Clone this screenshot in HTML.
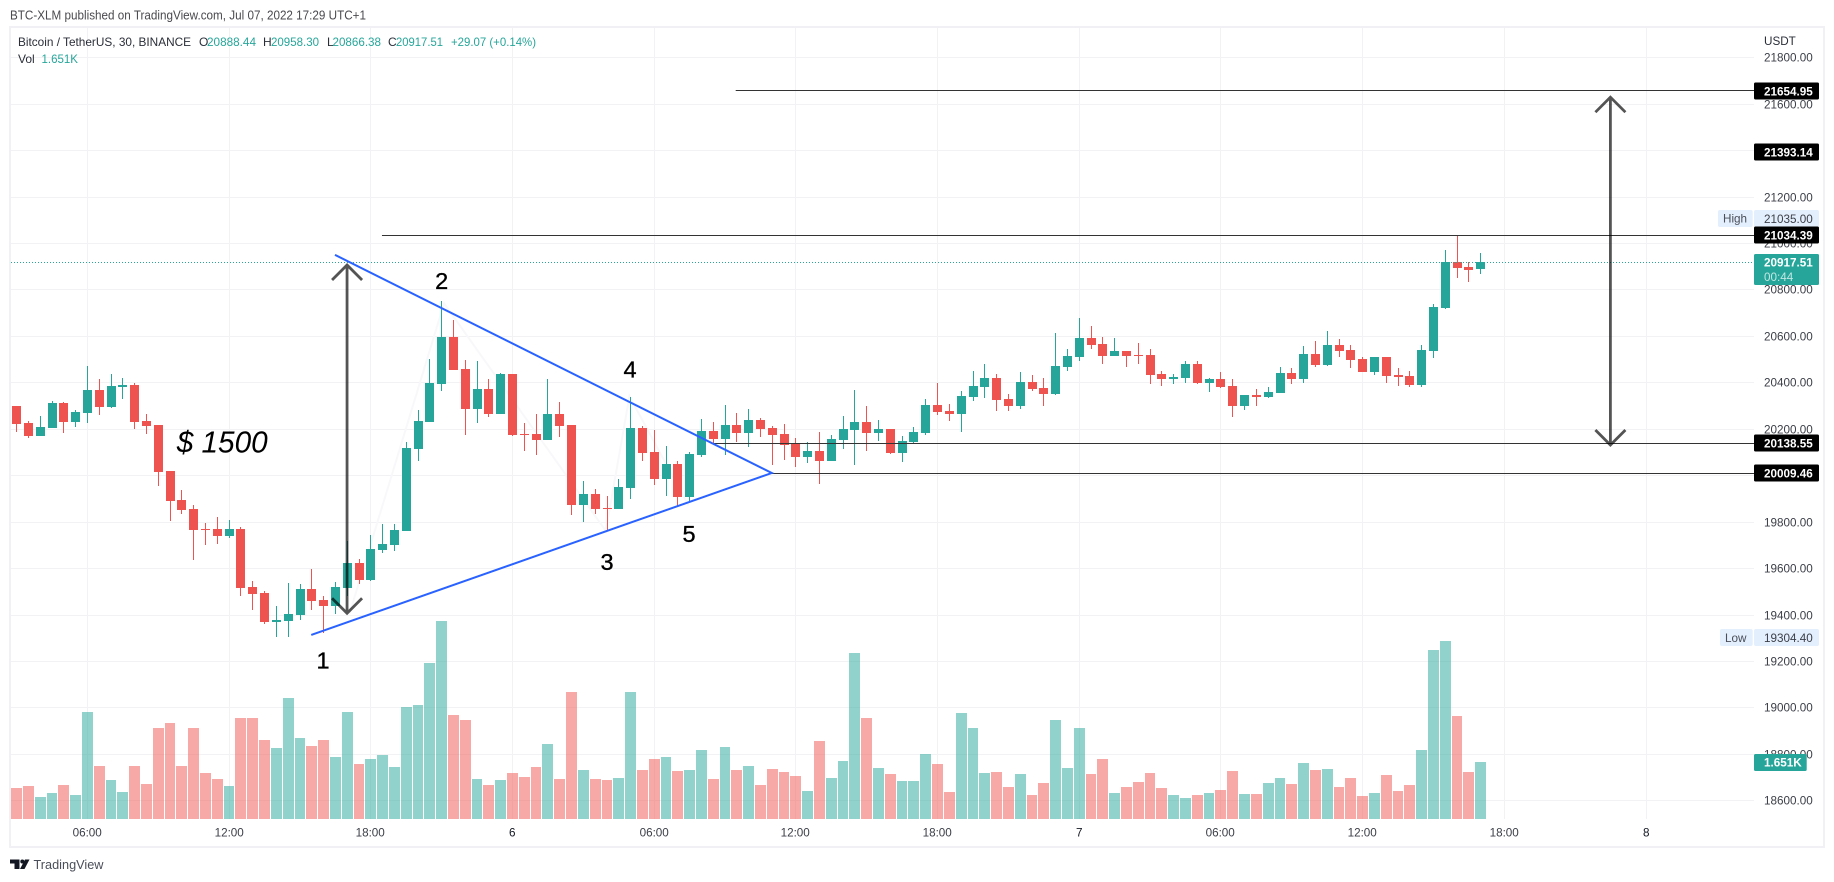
<!DOCTYPE html>
<html lang="en">
<head>
<meta charset="utf-8">
<title>BTC-XLM published on TradingView</title>
<style>
html,body{margin:0;padding:0;background:#fff;width:1834px;height:882px;overflow:hidden}
svg{display:block;font-family:"Liberation Sans",sans-serif}
</style>
</head>
<body>
<svg id="chart" xmlns="http://www.w3.org/2000/svg" width="1834" height="882" viewBox="0 0 1834 882">
  <rect x="0" y="0" width="1834" height="882" fill="#ffffff"/>
  <text x="10" y="19.5" font-size="12.5" fill="#4a4a4f" textLength="356" lengthAdjust="spacingAndGlyphs">BTC-XLM published on TradingView.com, Jul 07, 2022 17:29 UTC+1</text>
  <g id="grid" shape-rendering="crispEdges"></g>
  <g id="ghost"></g>
  <g id="volumes" shape-rendering="crispEdges"></g>
  <g id="candles" shape-rendering="crispEdges"></g>
  <g id="drawings"></g>
  <g id="legend" font-size="12">
    <text x="18" y="46" fill="#2a2e39" textLength="173" lengthAdjust="spacingAndGlyphs">Bitcoin / TetherUS, 30, BINANCE</text>
    <text x="199" y="46" fill="#2a2e39">O</text>
    <text x="207" y="46" fill="#26a69a" textLength="49" lengthAdjust="spacingAndGlyphs">20888.44</text>
    <text x="263" y="46" fill="#2a2e39">H</text>
    <text x="271" y="46" fill="#26a69a" textLength="48" lengthAdjust="spacingAndGlyphs">20958.30</text>
    <text x="327" y="46" fill="#2a2e39">L</text>
    <text x="332.5" y="46" fill="#26a69a" textLength="48.5" lengthAdjust="spacingAndGlyphs">20866.38</text>
    <text x="388" y="46" fill="#2a2e39">C</text>
    <text x="396" y="46" fill="#26a69a" textLength="47" lengthAdjust="spacingAndGlyphs">20917.51</text>
    <text x="451" y="46" fill="#26a69a" textLength="85" lengthAdjust="spacingAndGlyphs">+29.07 (+0.14%)</text>
    <text x="18" y="63" fill="#2a2e39">Vol</text>
    <text x="41.5" y="63" fill="#26a69a" textLength="36.5" lengthAdjust="spacingAndGlyphs">1.651K</text>
  </g>
  <g id="price-scale" font-size="11.7"></g>
  <g id="time-scale" font-size="11.7"></g>
  <g id="frame" fill="#f0f0f5" shape-rendering="crispEdges">
    <rect x="9" y="26" width="1816" height="2"/>
    <rect x="9" y="846" width="1816" height="2"/>
    <rect x="9" y="26" width="2" height="822"/>
    <rect x="1823" y="26" width="2" height="822"/>
  </g>
  <g id="logo">
    <path d="M10 859.5H19.5V869H14.5V863.5H10Z" fill="#131722"/>
    <circle cx="22.3" cy="861.5" r="2" fill="#131722"/>
    <path d="M25 859.5H29.5L24.5 869H20Z" fill="#131722"/>
    <text x="33.5" y="869" font-size="13" fill="#4a4e59" textLength="70" lengthAdjust="spacingAndGlyphs">TradingView</text>
  </g>
</svg>
<script>
const opens = [20298,20225,20169,20204,20311,20230,20268,20367,20294,20380,
20389,20234,20217,20019,19894,19855,19769,19769,19739,19769,
19519,19493,19368,19373,19398,19510,19463,19437,19515,19622,
19549,19678,19700,19760,20113,20230,20393,20595,20458,20285,
20371,20264,20436,20178,20178,20152,20264,20216,19872,19919,
19859,19855,19945,20203,20100,19984,20048,19906,20087,20191,
20156,20217,20182,20238,20204,20178,20136,20079,20105,20062,
20152,20195,20230,20182,20199,20096,20143,20182,20303,20277,
20264,20337,20380,20419,20329,20298,20402,20376,20350,20466,
20509,20591,20565,20514,20535,20518,20518,20436,20415,20419,
20479,20397,20415,20384,20298,20346,20337,20354,20440,20415,
20522,20475,20561,20539,20501,20445,20509,20432,20428,20389,
20535,20720,20918,20897,20888.44];
const highs = [20298,20234,20255,20320,20316,20281,20471,20415,20436,20419,
20398,20264,20217,20019,19937,19872,19795,19820,19808,19777,
19545,19502,19437,19536,19532,19597,19480,19541,19717,19640,
19743,19790,19790,20143,20281,20501,20751,20669,20496,20492,
20414,20440,20436,20225,20264,20414,20315,20216,19975,19941,
19911,19984,20337,20212,20195,20126,20061,20100,20242,20230,
20303,20268,20286,20247,20212,20221,20161,20143,20187,20174,
20255,20367,20298,20238,20199,20169,20208,20329,20398,20307,
20363,20449,20479,20436,20350,20445,20432,20419,20613,20544,
20677,20643,20596,20591,20535,20570,20544,20449,20436,20492,
20492,20419,20445,20415,20346,20372,20380,20466,20462,20557,
20578,20621,20587,20561,20509,20509,20509,20462,20449,20561,
20738,20970,21035,20918,20958.30];
const lows = [20187,20161,20169,20204,20182,20208,20225,20260,20290,20329,
20199,20178,19954,19803,19833,19635,19700,19704,19730,19480,
19420,19360,19304,19304,19377,19420,19321,19403,19480,19532,
19545,19665,19674,19760,20062,20230,20363,20453,20173,20225,
20251,20264,20169,20104,20087,20152,20165,19829,19799,19833,
19764,19855,19898,20061,19958,19911,19868,19889,20080,20135,
20087,20143,20122,20165,20044,20066,20036,20053,19963,20062,
20113,20044,20105,20148,20092,20057,20138,20174,20260,20234,
20187,20320,20333,20277,20277,20286,20363,20298,20346,20449,
20492,20544,20479,20514,20466,20479,20393,20384,20393,20397,
20393,20359,20376,20251,20281,20298,20333,20354,20393,20397,
20466,20471,20509,20462,20445,20432,20397,20384,20380,20380,
20505,20716,20850,20832,20866.38];
const closes = [20221,20169,20208,20311,20230,20273,20367,20294,20385,20389,
20230,20212,20014,19889,19851,19765,19763,19739,19769,19515,
19489,19368,19377,19403,19510,19459,19437,19519,19622,19549,
19683,19704,19765,20118,20234,20398,20596,20453,20285,20371,
20264,20436,20173,20173,20152,20264,20212,19872,19919,19855,
19855,19949,20203,20096,19984,20048,19906,20091,20191,20156,
20217,20182,20238,20199,20174,20131,20079,20105,20062,20156,
20199,20230,20182,20199,20096,20148,20187,20303,20273,20264,
20342,20385,20419,20324,20298,20402,20372,20350,20471,20514,
20591,20561,20514,20535,20514,20514,20432,20415,20423,20479,
20397,20415,20380,20298,20346,20337,20359,20440,20415,20522,
20475,20561,20535,20496,20445,20509,20428,20423,20389,20539,
20725,20918,20893,20884,20917.51];
const volumes = [898,956,637,753,985,695,3099,1535,1130,782,
1535,1014,2636,2781,1535,2636,1332,1159,956,2925,
2925,2288,2057,3505,2346,2114,2288,1796,3099,1593,
1738,1854,1506,3244,3302,4519,5735,3012,2868,1159,
985,1130,1332,1217,1506,2172,1159,3679,1419,1159,
1130,1188,3679,1419,1738,1796,1390,1419,1999,1159,
2085,1419,1535,985,1448,1361,1245,811,2259,1188,
1680,4808,2925,1477,1303,1101,1101,1883,1593,782,
3070,2636,1332,1361,927,1303,695,1043,2868,1477,
2636,1303,1738,753,927,1072,1332,898,695,608,
695,753,840,1390,724,724,1043,1188,1014,1622,
1419,1448,927,1188,666,753,1274,811,985,1999,
4895,5156,2983,1361,1651];

const priceTicks = [21800,21600,21400,21200,21000,20800,20600,20400,20200,20000,19800,19600,19400,19200,19000,18800,18600];
const timeTickBars = [6,18,30,42,54,66,78,90,102,114,126,138];
const timeTickLabels = ["06:00","12:00","18:00","6","06:00","12:00","18:00","7","06:00","12:00","18:00","8"];

const levelPrices = [21654.95,21034.39,20138.55,20009.46];
const levelStartBars = [60.9,30.94,58.98,63.95];
const drawingLabelPrices = [21654.95,21393.14,21034.39,20138.55,20009.46];
const trendBars = [26.96,63.95,24.95];
const trendPrices = [20949,20009.46,19312];
const zigzagBars = [28.2,36.2,49.9,51.9,56.9];
const zigzagPrices = [19405,20740,19760,20340,19870];
const arrowBars = [28,135];
const arrowTopPrices = [20905.5,21628];
const arrowBottomPrices = [19405.5,20130];
const waveLabels = ["1","2","3","4","5"];
const waveBars = [25.95,36,50,51.95,56.95];
const wavePrices = [19204,20838,19628,20458,19750];
const lastPrice = 20917.51;
const highPrice = 21035;
const lowPrice = 19304.4;
const volumeUnitsPerPixel = 1651 / 57;

const NS = 'http://www.w3.org/2000/svg';
const TEAL = '#26a69a', RED = '#ef5350';
const PANE_LEFT = 11, PANE_RIGHT = 1754, PANE_TOP = 28, PANE_BOTTOM = 819;

function yScale(p){ return 57.25 + (21800 - p) * 0.2322; }
function xScale(i){ return 87.5 + (i - 6) * 11.807; }
function vScale(v){ return PANE_BOTTOM - v / volumeUnitsPerPixel; }
function make(parent, tag, attrs, txt){
  const el = document.createElementNS(NS, tag);
  for (const k in attrs) el.setAttribute(k, attrs[k]);
  if (txt !== undefined) el.textContent = txt;
  parent.appendChild(el);
  return el;
}
const gGrid = document.getElementById('grid');
const gGhost = document.getElementById('ghost');
const gVol = document.getElementById('volumes');
const gCandles = document.getElementById('candles');
const gDraw = document.getElementById('drawings');
const gPrice = document.getElementById('price-scale');
const gTime = document.getElementById('time-scale');

priceTicks.forEach(function(p){
  const y = Math.round(yScale(p));
  const ln = make(gGrid, 'rect', {x: PANE_LEFT, y: y, width: PANE_RIGHT - PANE_LEFT, height: 1, fill: '#f2f2f5'});
  
  
});
timeTickBars.forEach(function(b){
  const ln = make(gGrid, 'rect', {x: Math.floor(xScale(b)), y: PANE_TOP, width: 1, height: PANE_BOTTOM - PANE_TOP, fill: '#f2f2f5'});
  
  
});

const zig = make(gGhost, 'polyline', {points: zigzagBars.map(function(b, k){ return xScale(b) + ',' + yScale(zigzagPrices[k]); }).join(' '), fill: 'none', stroke: '#f8f8fa', 'stroke-width': 2});



volumes.forEach(function(v, i){
  const fx = Math.floor(xScale(i));
  const nx = Math.floor(xScale(i + 1));
  const top = Math.round(vScale(v));
  const bar = make(gVol, 'rect', {x: fx - 5, y: top, width: Math.min(11, nx - fx - 1), height: PANE_BOTTOM - top, fill: closes[i] >= opens[i] ? TEAL : RED, 'fill-opacity': 0.5});
  
  
});

opens.forEach(function(o, i){
  const c = closes[i];
  const col = c >= o ? TEAL : RED;
  const fx = Math.floor(xScale(i));
  const yh = Math.round(yScale(highs[i]));
  const yl = Math.round(yScale(lows[i]));
  const yt = Math.round(yScale(Math.max(o, c)));
  const yb = Math.round(yScale(Math.min(o, c)));
  const wick = make(gCandles, 'rect', {x: fx, y: yh, width: 1, height: Math.max(1, yl - yh), fill: col});
  
  
  const body = make(gCandles, 'rect', {x: fx - 4, y: yt, width: 9, height: Math.max(1, yb - yt), fill: col});
  
  
});

const lastLine = make(gDraw, 'line', {x1: PANE_LEFT, x2: PANE_RIGHT, y1: Math.floor(yScale(lastPrice)) + 0.5, y2: Math.floor(yScale(lastPrice)) + 0.5, stroke: TEAL, 'stroke-width': 1, 'stroke-dasharray': '1 2'});



levelPrices.forEach(function(p, k){
  const y = Math.floor(yScale(p)) + 0.5;
  const ln = make(gDraw, 'line', {x1: xScale(levelStartBars[k]), x2: PANE_RIGHT, y1: y, y2: y, stroke: '#333333', 'stroke-width': 1.1});
  
  
});

const tri = make(gDraw, 'polyline', {points: trendBars.map(function(b, k){ return xScale(b) + ',' + yScale(trendPrices[k]); }).join(' '), fill: 'none', stroke: '#2962ff', 'stroke-width': 2, 'stroke-linejoin': 'miter'});



arrowBars.forEach(function(b, k){
  const x = xScale(b) - 0.2;
  const t = yScale(arrowTopPrices[k]);
  const bt = yScale(arrowBottomPrices[k]);
  const d = 'M' + (x - 15) + ' ' + (t + 15) + 'L' + x + ' ' + t + 'L' + (x + 15) + ' ' + (t + 15) +
            'M' + x + ' ' + t + 'L' + x + ' ' + bt +
            'M' + (x - 15) + ' ' + (bt - 15) + 'L' + x + ' ' + bt + 'L' + (x + 15) + ' ' + (bt - 15);
  const ar = make(gDraw, 'path', {d: d, fill: 'none', stroke: '#000000', 'stroke-opacity': 0.67, 'stroke-width': 2.8, 'stroke-linejoin': 'miter'});
  
  
});

waveLabels.forEach(function(t, k){
  const lb = make(gDraw, 'text', {x: xScale(waveBars[k]), y: yScale(wavePrices[k]) + 8.5, 'font-size': 23.5, 'text-anchor': 'middle', fill: '#000000', stroke: '#000000', 'stroke-width': 0.35}, t);
  
  
});
const amt = make(gDraw, 'text', {x: 176.7, y: 452.5, 'font-size': 31, 'font-style': 'italic', fill: '#000000', textLength: 91, lengthAdjust: 'spacingAndGlyphs'}, '$ 1500');



const priceBg = make(gPrice, 'rect', {x: PANE_RIGHT, y: PANE_TOP, width: 69, height: 818 - PANE_TOP, fill: '#ffffff'});


const unit = make(gPrice, 'text', {x: 1764, y: 45, fill: '#2a2e39'}, 'USDT');


priceTicks.forEach(function(p){
  const tk = make(gPrice, 'text', {x: 1764, y: Math.round(yScale(p)) + 4.7, fill: '#3c3f48'}, p.toFixed(2));
  
  
});

const hiBox = make(gPrice, 'rect', {x: 1718, y: 210, width: 34.7, height: 17, rx: 2, fill: '#e3effd'});


const hiTxt = make(gPrice, 'text', {x: 1723, y: 222.5, fill: '#4a4e59'}, 'High');


const hiVal = make(gPrice, 'rect', {x: 1754, y: 210, width: 65, height: 17, rx: 2, fill: '#e3effd'});


const hiValT = make(gPrice, 'text', {x: 1764, y: 222.8, fill: '#3c3f48'}, highPrice.toFixed(2));


const loBox = make(gPrice, 'rect', {x: 1720, y: 629, width: 32.7, height: 17, rx: 2, fill: '#e3effd'});


const loTxt = make(gPrice, 'text', {x: 1725, y: 642, fill: '#4a4e59'}, 'Low');


const loVal = make(gPrice, 'rect', {x: 1754, y: 629, width: 65, height: 17, rx: 2, fill: '#e3effd'});


const loValT = make(gPrice, 'text', {x: 1764, y: 642, fill: '#3c3f48'}, lowPrice.toFixed(2));



drawingLabelPrices.forEach(function(p){
  const yc = Math.round(yScale(p));
  const bx = make(gPrice, 'rect', {x: 1754, y: yc - 8.5, width: 65, height: 17, rx: 1.5, fill: '#000000'});
  
  
  const tx = make(gPrice, 'text', {x: 1764, y: yc + 4.4, fill: '#ffffff', 'font-weight': 'bold'}, p.toFixed(2));
  
  
});

const lastBox = make(gPrice, 'rect', {x: 1754, y: Math.round(yScale(lastPrice)) - 8, width: 65, height: 31, rx: 1.5, fill: TEAL});


const lastTxt = make(gPrice, 'text', {x: 1764, y: Math.round(yScale(lastPrice)) + 4.6, fill: '#ffffff', 'font-weight': 'bold'}, lastPrice.toFixed(2));


const cdTxt = make(gPrice, 'text', {x: 1764, y: Math.round(yScale(lastPrice)) + 18.8, fill: '#ffffff', 'fill-opacity': 0.72}, '00:44');



const volBox = make(gPrice, 'rect', {x: 1754, y: Math.round(vScale(volumes[volumes.length - 1])) - 8, width: 52.7, height: 17, rx: 1.5, fill: TEAL});


const volTxt = make(gPrice, 'text', {x: 1764, y: Math.round(vScale(volumes[volumes.length - 1])) + 4.6, fill: '#ffffff', 'font-weight': 'bold'}, (volumes[volumes.length - 1] / 1000).toFixed(3) + 'K');



timeTickBars.forEach(function(b, k){
  const lbl = timeTickLabels[k];
  const isDay = lbl.length === 1;
  const tk = make(gTime, 'text', {x: Math.floor(xScale(b)) + 0.2, y: 836.5, 'text-anchor': 'middle', fill: isDay ? '#131722' : '#3c3f48'}, lbl);
  
  
});
</script>
</body>
</html>
